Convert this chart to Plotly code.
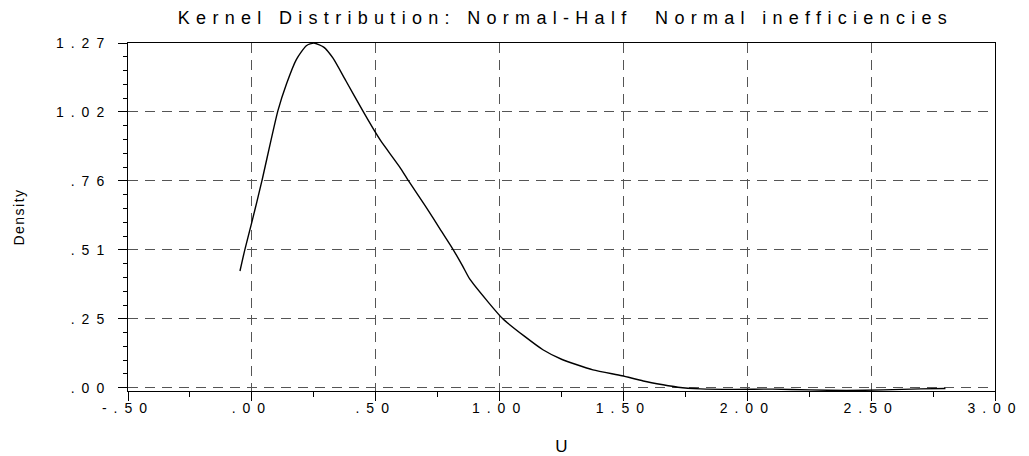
import plotly.graph_objects as go

# Kernel density curve
u_vals = [-0.048, -0.028, 0.0, 0.04, 0.105, 0.14, 0.18, 0.22, 0.25, 0.29, 0.327,
          0.38, 0.448, 0.488, 0.52, 0.597, 0.634, 0.70, 0.763, 0.812, 0.85, 0.88, 0.95,
          1.013, 1.10, 1.175, 1.25, 1.377, 1.494, 1.58, 1.66, 1.72, 1.81, 1.95,
          2.10, 2.25, 2.40, 2.55, 2.70, 2.80]
density = [0.43, 0.51, 0.61, 0.76, 1.02, 1.12, 1.21, 1.26, 1.27, 1.255, 1.215,
           1.13, 1.02, 0.957, 0.91, 0.813, 0.76, 0.67, 0.58, 0.51, 0.45, 0.40, 0.32,
           0.254, 0.19, 0.14, 0.105, 0.066, 0.044, 0.025, 0.011, 0.002, -0.004, -0.006,
           -0.005, -0.008, -0.010, -0.008, -0.004, -0.003]

x_tickvals = [-0.5, 0.0, 0.5, 1.0, 1.5, 2.0, 2.5, 3.0]
x_ticktext = ["-.50", ".00", ".50", "1.00", "1.50", "2.00", "2.50", "3.00"]
y_tickvals = [0.0, 0.254, 0.508, 0.762, 1.016, 1.27]
y_ticktext = [".00", ".25", ".51", ".76", "1.02", "1.27"]

title_text = "Kernel Distribution: Normal-Half  Normal inefficiencies"
x_title = "U"
y_title = "Density"

FONT = "Liberation Sans, Arial, sans-serif"


def spaced(s, px):
    return '<span style="letter-spacing:%spx">%s</span>' % (px, s)


fig = go.Figure()
fig.add_trace(go.Scatter(x=u_vals, y=density, mode="lines",
                         line=dict(color="black", width=1.4, shape="spline", smoothing=0.6),
                         showlegend=False, hoverinfo="skip"))

common = dict(showgrid=True, gridcolor="#555555", gridwidth=1, griddash="10px,7px",
              showline=True, linecolor="black", linewidth=1, mirror=True,
              ticks="outside", tickcolor="black", ticklen=9, zeroline=False,
              automargin=False,
              tickfont=dict(family=FONT, size=14, color="black"))

fig.update_xaxes(range=[-0.5, 3.0], tickmode="array", tickvals=x_tickvals,
                 ticktext=[spaced(t, 7) for t in x_ticktext], ticklabelstandoff=-5,
                 minor=dict(tickmode="linear", tick0=-0.5, dtick=0.25, ticks="outside",
                            ticklen=5, tickcolor="black", showgrid=False),
                 title=dict(text=x_title, font=dict(family=FONT, size=17, color="black"), standoff=33),
                 **common)
fig.update_yaxes(range=[-0.012, 1.27], tickmode="array", tickvals=y_tickvals,
                 ticktext=[spaced(t, 7) for t in y_ticktext], ticklabelstandoff=4,
                 minor=dict(tickmode="linear", tick0=0, dtick=0.0508, ticks="outside",
                            ticklen=4, tickcolor="black", showgrid=False),
                 title=dict(text=spaced(y_title, 1.5), font=dict(family=FONT, size=14, color="black"),
                            standoff=28),
                 **common)

fig.update_layout(
    width=1029, height=456,
    margin=dict(l=128, r=34, t=43, b=65),
    paper_bgcolor="white", plot_bgcolor="white",
    title=dict(text=spaced(title_text, 6.3), x=0.5046, xref="paper", xanchor="center",
               y=1 - 18 / 456, yref="container", yanchor="middle",
               font=dict(family=FONT, size=18, color="black")),
)

fig.write_html("out.html", config={"displayModeBar": False},
               post_script="document.body.style.margin='0';")
